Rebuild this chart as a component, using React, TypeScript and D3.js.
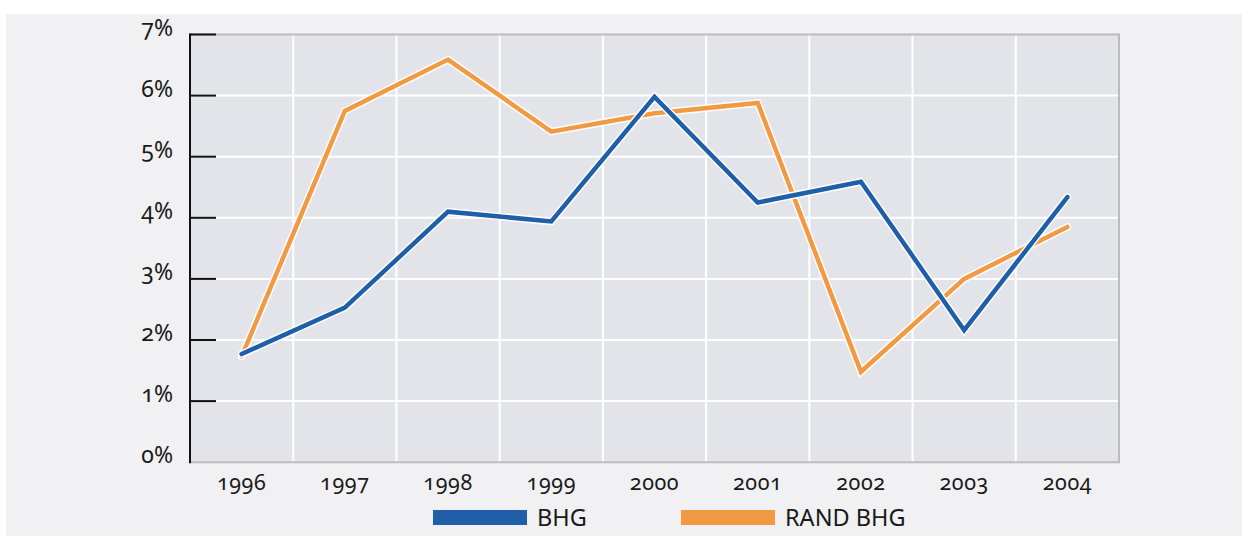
import React from "react";
import * as d3 from "d3";

const years = ["1996", "1997", "1998", "1999", "2000", "2001", "2002", "2003", "2004"];
const bhg = [1.77, 2.53, 4.1, 3.94, 5.98, 4.25, 4.59, 2.16, 4.34];
const randBhg = [1.73, 5.75, 6.59, 5.41, 5.71, 5.88, 1.48, 3.0, 3.85];
const yTicks = [0, 1, 2, 3, 4, 5, 6, 7];
const seriesNames = ["BHG", "RAND BHG"];
const seriesColors = ["#1f5fa9", "#f29a43"];

const W = 1242;
const H = 536;
const left = 190;
const right = 1119;
const top = 34.5;
const bottom = 462.2;
const FONT = "'Noto Sans', 'Open Sans', sans-serif";

export default function App() {
  const x = d3.scaleBand<string>().domain(years).range([left, right]).padding(0);
  const y = d3.scaleLinear().domain([0, 7]).range([bottom, top]);
  const cx = (yr: string) => (x(yr) as number) + x.bandwidth() / 2;

  const line = d3
    .line<number>()
    .x((_, i) => cx(years[i]))
    .y((d) => y(d));

  const series = [
    { name: seriesNames[1], values: randBhg, color: seriesColors[1] },
    { name: seriesNames[0], values: bhg, color: seriesColors[0] },
  ];

  const legend = [
    { name: seriesNames[0], color: seriesColors[0], x: 433 },
    { name: seriesNames[1], color: seriesColors[1], x: 681 },
  ];

  return (
    <svg
      width={W}
      height={H}
      style={{ position: "absolute", left: 0, top: 0, display: "block" }}
      fontFamily={FONT}
    >
      <rect x={0} y={0} width={W} height={H} fill="#ffffff" />
      <rect x={6} y={14} width={W - 6} height={H - 14} fill="#f1f1f3" />
      <rect x={left} y={top} width={right - left} height={bottom - top} fill="#e3e4e9" />

      {/* horizontal grid */}
      {yTicks
        .filter((t) => t > 0 && t < 7)
        .map((t) => (
          <line key={"h" + t} x1={left} x2={right} y1={y(t)} y2={y(t)} stroke="#ffffff" strokeWidth={2} />
        ))}
      {/* vertical grid at band boundaries */}
      {years.slice(1).map((yr) => (
        <line
          key={"v" + yr}
          x1={x(yr) as number}
          x2={x(yr) as number}
          y1={top}
          y2={bottom}
          stroke="#ffffff"
          strokeWidth={2}
        />
      ))}

      {/* border */}
      <line x1={left} x2={right} y1={top} y2={top} stroke="#bcbcbe" strokeWidth={2} />
      <line x1={right} x2={right} y1={top - 1} y2={bottom + 1} stroke="#bcbcbe" strokeWidth={2} />
      <line x1={left} x2={right} y1={bottom} y2={bottom} stroke="#bcbcbe" strokeWidth={2} />

      {/* y axis */}
      <line x1={left} x2={left} y1={top - 1} y2={bottom + 1} stroke="#111" strokeWidth={2} />
      {yTicks
        .filter((t) => t > 0)
        .map((t) => (
          <line key={"t" + t} x1={left} x2={left + 26} y1={y(t)} y2={y(t)} stroke="#111" strokeWidth={2} />
        ))}
      {yTicks.map((t) => (
        <text
          key={"yl" + t}
          x={173}
          y={y(t)}
          dy="0.05em"
          textAnchor="end"
          fontSize={23}
          fill="#1a1a1a"
          style={{ fontVariantNumeric: "oldstyle-nums" }}
        >
          {t + "%"}
        </text>
      ))}

      {/* x labels */}
      {years.map((yr) => (
        <text
          key={"xl" + yr}
          x={cx(yr)}
          y={490}
          textAnchor="middle"
          fontSize={21.5}
          fill="#1a1a1a"
          letterSpacing={0.6}
          style={{ fontVariantNumeric: "oldstyle-nums" }}
        >
          {yr}
        </text>
      ))}

      {/* lines */}
      {series.map((s) => (
        <g key={s.name}>
          <path
            d={line(s.values) as string}
            fill="none"
            stroke="#ffffff"
            strokeWidth={7.5}
            strokeLinejoin="miter"
            strokeLinecap="round"
          />
          <path
            d={line(s.values) as string}
            fill="none"
            stroke={s.color}
            strokeWidth={4.5}
            strokeLinejoin="miter"
            strokeLinecap="round"
          />
        </g>
      ))}

      {/* legend */}
      {legend.map((l) => (
        <g key={"lg" + l.name}>
          <rect x={l.x} y={510} width={94} height={15} fill={l.color} />
          <text x={l.x + 104} y={526} fontSize={23.5} fill="#1a1a1a">
            {l.name}
          </text>
        </g>
      ))}
    </svg>
  );
}
